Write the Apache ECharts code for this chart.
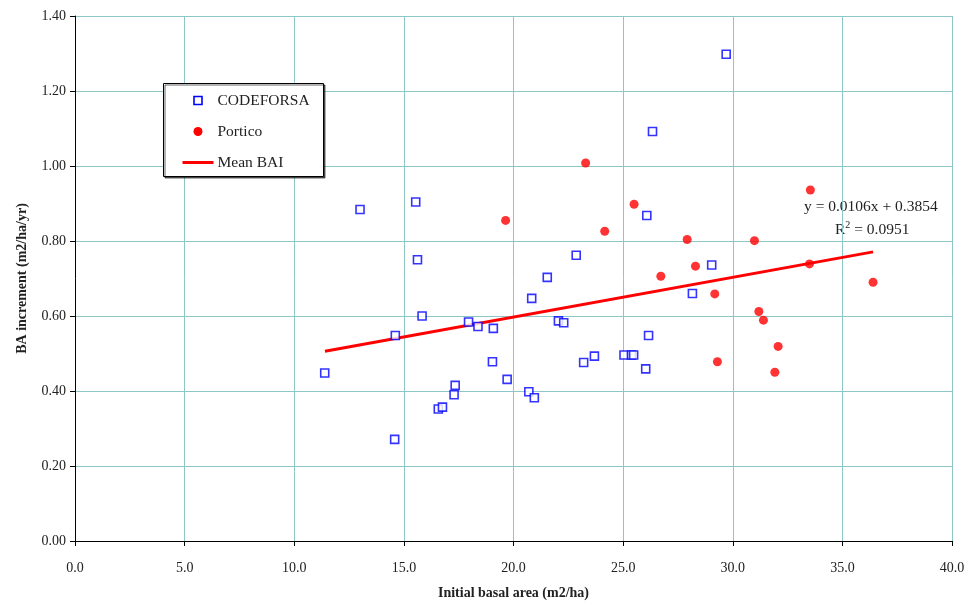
<!DOCTYPE html>
<html><head><meta charset="utf-8">
<script src="https://cdn.jsdelivr.net/npm/echarts@6/dist/echarts.min.js"></script>
<style>html,body{margin:0;padding:0;background:#fff}#c{width:968px;height:603px}</style>
</head><body><div id="c"></div>
<script>
const codeforsaX = [11.39,13.0,14.58,14.61,15.54,15.62,15.83,16.57,16.76,17.29,17.34,17.95,18.38,19.08,19.04,19.71,20.70,20.95,20.83,21.54,22.86,22.05,22.29,23.20,23.69,25.04,25.38,25.48,26.03,26.08,26.16,26.34,28.16,29.04,29.70];
const codeforsaY = [0.448,0.884,0.271,0.548,0.904,0.750,0.600,0.352,0.357,0.390,0.415,0.584,0.572,0.567,0.478,0.431,0.398,0.382,0.647,0.703,0.762,0.587,0.582,0.476,0.493,0.496,0.496,0.496,0.459,0.868,0.548,1.092,0.660,0.736,1.298];
const porticoX = [19.64,23.29,24.16,25.50,26.72,27.92,28.30,29.18,29.30,30.99,31.19,31.40,31.92,32.07,33.50,33.54,36.40];
const porticoY = [0.855,1.008,0.826,0.898,0.706,0.804,0.733,0.659,0.478,0.801,0.612,0.589,0.450,0.519,0.739,0.936,0.690];
const trendX = [11.4, 36.4];
const trendY = [0.506, 0.771];
const xTicks = {min:0, max:40, interval:5};
const yTicks = {min:0, max:1.4, interval:0.2};
const seriesNames = ['CODEFORSA','Portico','Mean BAI'];
const equationText = 'y = 0.0106x + 0.3854';
const r2Text = 'R{sup|2} = 0.0951';

const font = '"Liberation Serif", "Times New Roman", serif';
const zip = (a,b)=>a.map((v,i)=>[v,b[i]]);
const chart = echarts.init(document.getElementById('c'));
const blue = '#0000ff', red = '#ff0000';
chart.setOption({
  animation:false,
  backgroundColor:'#fff',
  textStyle:{fontFamily:font},
  grid:{left:75,right:16,top:16,bottom:62,containLabel:false,outerBoundsMode:'none'},
  xAxis:{type:'value',min:xTicks.min,max:xTicks.max,interval:xTicks.interval,
    name:'Initial basal area (m2/ha)',nameLocation:'middle',nameGap:45,
    nameTextStyle:{fontFamily:font,fontWeight:'bold',fontSize:14,color:'#222'},
    axisLine:{show:true,onZero:false,lineStyle:{color:'#000',width:1}},
    axisTick:{show:true,length:5,lineStyle:{color:'#000'}},
    axisLabel:{formatter:v=>v.toFixed(1),fontFamily:font,fontSize:14,color:'#222',margin:20},
    splitLine:{show:true,lineStyle:{color:'#8cc6c6',width:1}}},
  yAxis:{type:'value',min:yTicks.min,max:yTicks.max,interval:yTicks.interval,
    name:'BA increment (m2/ha/yr)',nameLocation:'middle',nameGap:46,
    nameTextStyle:{fontFamily:font,fontWeight:'bold',fontSize:14,color:'#222'},
    axisLine:{show:true,onZero:false,lineStyle:{color:'#000',width:1}},
    axisTick:{show:true,length:5,lineStyle:{color:'#000'}},
    axisLabel:{formatter:v=>v.toFixed(2),fontFamily:font,fontSize:14,color:'#222',margin:9},
    splitLine:{show:true,lineStyle:{color:'#8cc6c6',width:1}}},
  series:[
    {name:seriesNames[0],type:'scatter',symbol:'rect',symbolSize:8,
      itemStyle:{color:'#fff',borderColor:blue,borderWidth:1.6},
      data:zip(codeforsaX,codeforsaY),z:3},
    {name:seriesNames[1],type:'scatter',symbol:'circle',symbolSize:9,
      itemStyle:{color:red},data:zip(porticoX,porticoY),z:4},
    {name:seriesNames[2],type:'line',symbol:'none',showSymbol:false,
      lineStyle:{color:red,width:3},itemStyle:{color:red},
      data:zip(trendX,trendY),z:2}
  ],
  graphic:[
    {type:'group',left:163,top:83,z:100,children:[
      {type:'rect',z:100,shape:{x:0,y:0,width:160,height:93},
        style:{fill:'#fff',stroke:'#000',lineWidth:1,shadowColor:'rgba(0,0,0,0.6)',shadowOffsetX:1.5,shadowOffsetY:1.5,shadowBlur:0}},
      {type:'rect',z:101,shape:{x:30.5,y:13,width:8,height:8},style:{fill:'#fff',stroke:blue,lineWidth:1.6}},
      {type:'circle',z:101,shape:{cx:34.5,cy:48,r:4.5},style:{fill:red}},
      {type:'line',z:101,shape:{x1:19,y1:79,x2:50,y2:79},style:{stroke:red,lineWidth:3}},
      {type:'text',z:102,x:54,y:17,style:{text:seriesNames[0],font:'15.5px '+font,fill:'#222',verticalAlign:'middle'}},
      {type:'text',z:102,x:54,y:48,style:{text:seriesNames[1],font:'15.5px '+font,fill:'#222',verticalAlign:'middle'}},
      {type:'text',z:102,x:54,y:79,style:{text:seriesNames[2],font:'15.5px '+font,fill:'#222',verticalAlign:'middle'}}
    ]},
    {type:'text',left:804,top:199,style:{text:equationText,font:'15.5px '+font,fill:'#222'}},
    {type:'text',left:835,top:220,style:{text:r2Text,font:'15.5px '+font,fill:'#222',
      rich:{sup:{fontSize:10,verticalAlign:'top',padding:[0,0,9,0],fontFamily:font}}}}
  ]
});
</script></body></html>
